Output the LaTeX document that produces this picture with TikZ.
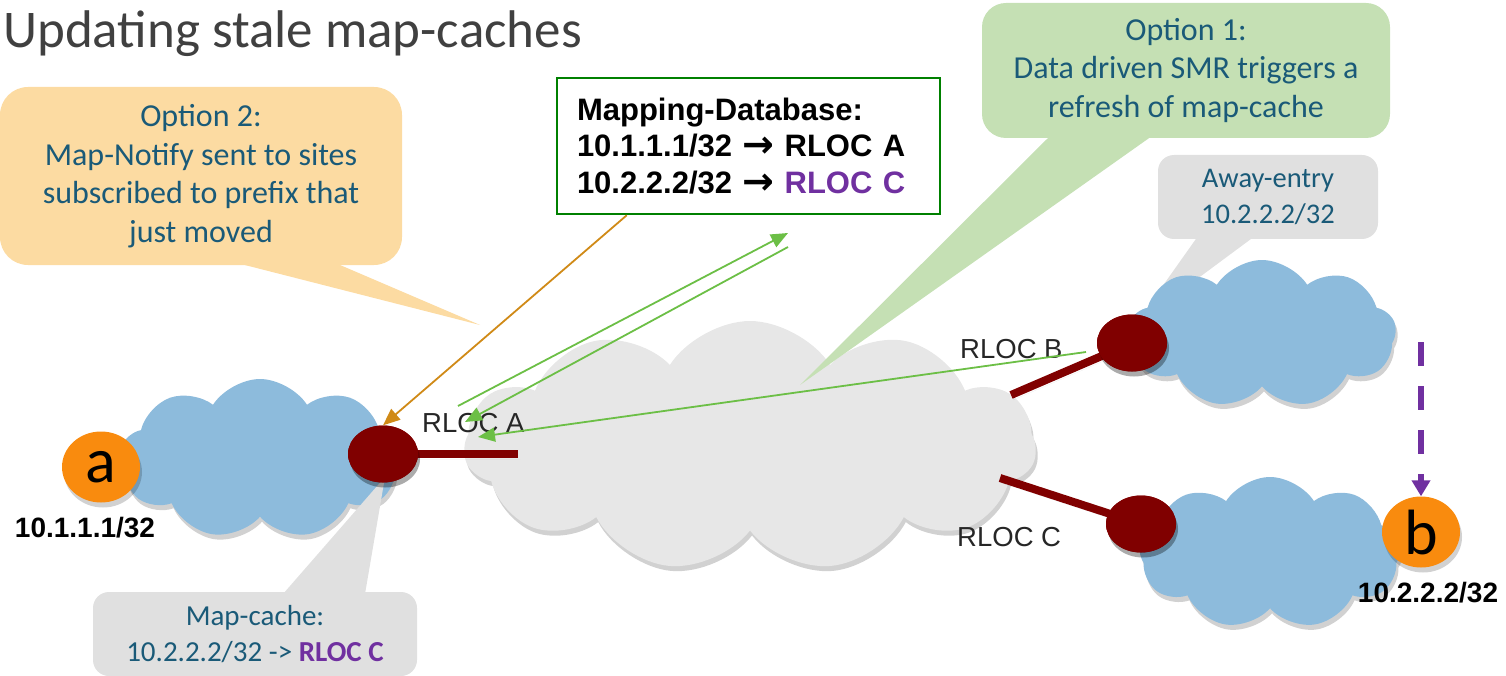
\documentclass[tikz,border=0pt]{standalone}
\usepackage{fontspec}
\setmainfont{Carlito}
\newfontfamily\arialf{Liberation Sans}
\newfontfamily\dejavu{DejaVu Sans}
\usetikzlibrary{shapes.geometric,shapes.symbols,shadows,arrows.meta}
\definecolor{orangefill}{HTML}{FCDBA2}
\definecolor{greenfill}{HTML}{C5E0B4}
\definecolor{grayfill}{HTML}{E0E0E0}
\definecolor{cloudgray}{HTML}{E7E7E7}
\definecolor{cloudblue}{HTML}{8DBBDC}
\definecolor{routerred}{HTML}{800000}
\definecolor{hostorange}{HTML}{F98B0E}
\definecolor{textblue}{HTML}{1A5A78}
\definecolor{rlocpurple}{HTML}{7030A0}
\definecolor{dbgreen}{HTML}{008000}
\definecolor{siggreen}{HTML}{6CBF46}
\definecolor{arroworange}{HTML}{D08A17}
\definecolor{titlegray}{HTML}{404040}
\definecolor{labelgray}{HTML}{262626}
\newcommand{\dbarrow}{{\dejavu\bfseries\fontsize{38}{36.5}\selectfont\raisebox{-1pt}{→}}}
\begin{document}
\begin{tikzpicture}[x=1pt,y=-1pt,
  shadowed/.style={drop shadow={shadow xshift=2pt,shadow yshift=-5pt,opacity=0.18,fill=black}},
  calloutbox/.style={rectangle,inner sep=0pt,align=center,text=textblue},
  netcloud/.style={cloud,cloud puffs=11,cloud puff arc=115,cloud ignores aspect,inner sep=0pt,draw=none,shadowed},
  router/.style={ellipse,fill=routerred,minimum width=70pt,minimum height=57pt,inner sep=0pt,shadowed},
  host/.style={ellipse,fill=hostorange,minimum width=78pt,minimum height=71pt,inner sep=0pt,shadowed,font=\fontsize{64}{64}\selectfont},
  link/.style={draw=routerred,line width=8pt,shadowed},
  rloc/.style={anchor=base west,inner sep=0pt,text=labelgray,font=\arialf\fontsize{27.5}{30}\selectfont},
  ipl/.style={inner sep=0pt,font=\arialf\bfseries\fontsize{28}{30}\selectfont},
  sig/.style={draw=siggreen,line width=1.8pt,-{Triangle[length=17pt,width=14pt]}}
]
\useasboundingbox (0,0) rectangle (1506,676);

% title
\node[anchor=base west,inner sep=0pt,text=titlegray,font=\fontsize{53}{60}\selectfont] (title) at (3,48) {Updating stale map-caches};

% Option 2 callout
\coordinate (tip2) at (480,325);
\fill[orangefill] (233,262) -- (tip2) -- (333,262) -- cycle;
\node[calloutbox,fill=orangefill,rounded corners=28pt,minimum width=402pt,minimum height=178pt,
  font=\fontsize{32}{38.5}\selectfont] (opt2) at (201,176)
  {Option 2:\\Map-Notify sent to sites\\subscribed to prefix that\\just moved};

% big core cloud
\node[netcloud,fill=cloudgray,minimum width=572pt,minimum height=250pt] (core) at (750,446) {};

% left site cloud
\node[netcloud,cloud puffs=9,fill=cloudblue,minimum width=280pt,minimum height=160pt] (siteA) at (260,459) {};

% Away-entry callout (behind upper right cloud)
\coordinate (tipaway) at (1135,325);
\fill[grayfill] (1198,236) -- (tipaway) -- (1255,236) -- cycle;
\node[calloutbox,fill=grayfill,rounded corners=16pt,minimum width=220pt,minimum height=84pt,
  font=\fontsize{28.5}{36}\selectfont] (away) at (1268,197) {Away-entry\\10.2.2.2/32};

% right site clouds
\node[netcloud,cloud puffs=9,fill=cloudblue,minimum width=268pt,minimum height=148pt] (siteB) at (1262,334) {};
\node[netcloud,cloud puffs=9,fill=cloudblue,minimum width=262pt,minimum height=152pt] (siteC) at (1270,553) {};

% Option 1 callout
\coordinate (tip1) at (800,385);
\fill[greenfill] (1050,136) -- (tip1) -- (1152,136) -- cycle;
\node[calloutbox,fill=greenfill,rounded corners=24pt,minimum width=408pt,minimum height=135pt,
  font=\fontsize{32}{38.5}\selectfont] (opt1) at (1186,70.5)
  {Option 1:\\Data driven SMR triggers a\\refresh of map-cache};

% Map-cache callout
\coordinate (tipmc) at (385,477);
\fill[grayfill] (283,594) -- (tipmc) -- (365,594) -- cycle;
\node[calloutbox,fill=grayfill,rounded corners=16pt,minimum width=324pt,minimum height=84pt,
  font=\fontsize{29}{36}\selectfont] (mapcache) at (255,634)
  {Map-cache:\\10.2.2.2/32 -> {\bfseries\color{rlocpurple}RLOC C}};

% routers and links
\coordinate (lkA) at (518,454);
\coordinate (lkB) at (1011,395);
\coordinate (lkC) at (1000,478);
\node[router] (rA) at (383,454) {};
\node[router] (rB) at (1132,343) {};
\node[router] (rC) at (1141,524) {};
\draw[link] (rA.center) -- (lkA);
\draw[link] (lkB) -- (rB.center);
\draw[link] (lkC) -- (rC.center);
\node[router] at (383,454) {};
\node[router] at (1132,343) {};
\node[router] at (1141,524) {};

% hosts
\node[host] (ha) at (101,467) {a};
\node[host] (hb) at (1421,532) {b};
\node[ipl] (ipa) at (85,528) {10.1.1.1/32};
\node[ipl] (ipb) at (1428,593) {10.2.2.2/32};

% RLOC labels
\node[rloc] (lA) at (422,432) {RLOC A};
\node[rloc] (lB) at (960,358) {RLOC B};
\node[rloc] (lC) at (957,546) {RLOC C};

% mapping database
\node[rectangle,draw=dbgreen,line width=2.5pt,fill=white,minimum width=383pt,minimum height=136pt,
  inner xsep=20pt,inner ysep=0pt,text width=343pt,align=left,
  font=\arialf\bfseries\fontsize{31}{36.5}\selectfont] (db) at (748.5,146)
  {Mapping-Database:\\10.1.1.1/32 \dbarrow{} RLOC A\\10.2.2.2/32 \dbarrow{} {\color{rlocpurple}RLOC C}};

% signalling arrows
\coordinate (s1a) at (458,406);
\coordinate (s1b) at (788,233);
\coordinate (s2a) at (788,247);
\coordinate (s2b) at (465,422);
\coordinate (s3a) at (1086,352);
\coordinate (s3b) at (478,437);
\draw[sig] (s1a) -- (s1b);
\draw[sig] (s2a) -- (s2b);
\draw[sig] (s3a) -- (s3b);
\draw[draw=arroworange,line width=1.8pt,-{Triangle[length=17pt,width=14pt]}] ([xshift=71pt]db.south west) -- (rA.north);

% purple dashed move
\coordinate (mv) at (1421,342);
\draw[draw=rlocpurple,line width=6pt,dash pattern=on 24pt off 20pt,-{Triangle[length=16pt,width=18pt]}] (mv) -- (hb.north);
\end{tikzpicture}
\end{document}
